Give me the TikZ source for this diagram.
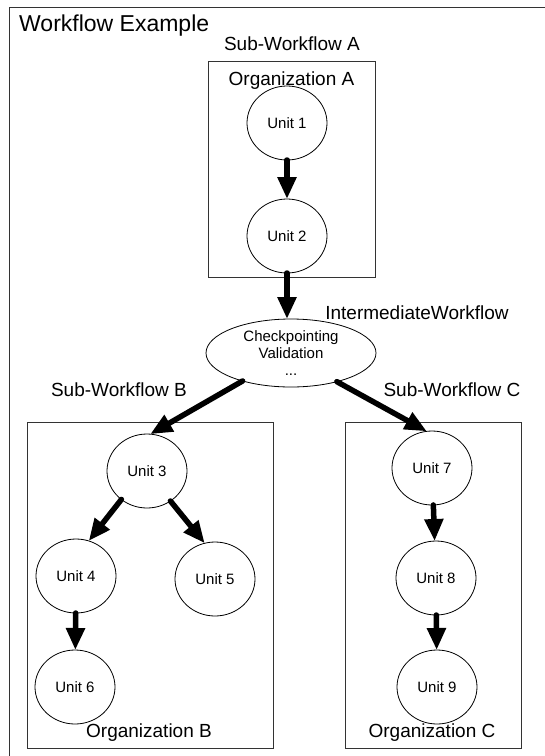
\documentclass[tikz,border=0pt]{standalone}
\usepackage{fontspec}
\setmainfont{Liberation Sans}
\usetikzlibrary{shapes.geometric,arrows.meta}
\begin{document}
\begin{tikzpicture}[x=1pt,y=-1pt,
  unit/.style={draw=black, line width=0.8pt, ellipse, minimum width=80pt, minimum height=74pt, inner sep=0pt, outer sep=0pt, font=\fontsize{15}{17}\selectfont},
  orgbox/.style={draw=black!80, line width=1pt, rectangle, inner sep=0pt, outer sep=0pt},
  lbl/.style={font=\fontsize{19}{22}\selectfont, inner sep=0pt},
  flow/.style={line width=5.5pt, line cap=round, -{Triangle[length=22pt,width=18pt]}},
]
\useasboundingbox (0,0) rectangle (545,756);
% outer frame (right and bottom sides lie outside the picture)
\coordinate (frTR) at (545,7);
\coordinate (frTL) at (9,7);
\coordinate (frBL) at (9,756);
\draw[draw=black!80, line width=1pt] (frTR) -- (frTL) -- (frBL);

\node[font=\fontsize{23}{26}\selectfont, inner sep=0pt, anchor=west] (title) at (19,26) {Workflow Example};

% organisation boxes
\node[orgbox, minimum width=167pt, minimum height=216pt] (orgA) at (291.5,169) {};
\node[orgbox, minimum width=246pt, minimum height=326pt] (orgB) at (150,585) {};
\node[orgbox, minimum width=176pt, minimum height=326pt] (orgC) at (433,585) {};

% labels
\node[lbl] (swa) at (292,44) {Sub-Workflow A};
\node[lbl] (oa) at (291.5,81) {Organization A};
\node[lbl] (iw) at (417,313) {IntermediateWorkflow};
\node[lbl] (swb) at (119,390) {Sub-Workflow B};
\node[lbl] (swc) at (452,390) {Sub-Workflow C};
\node[lbl] (ob) at (149,733) {Organization B};
\node[lbl] (oc) at (432,733) {Organization C};

% units
\node[unit] (u1) at (287,123) {Unit 1};
\node[unit] (u2) at (287,236) {Unit 2};
\node[unit, minimum width=170pt, minimum height=68pt, align=center] (cp) at (291,353) {Checkpointing\\Validation\\...};
\node[unit] (u3) at (147,471) {Unit 3};
\node[unit] (u4) at (76,576) {Unit 4};
\node[unit] (u5) at (215,579) {Unit 5};
\node[unit] (u6) at (75,687) {Unit 6};
\node[unit] (u7) at (432,468) {Unit 7};
\node[unit] (u8) at (436,578) {Unit 8};
\node[unit] (u9) at (437,687) {Unit 9};

% connectors
\draw[flow] (u1) -- (u2);
\draw[flow] (u2.south) -- (u2.south |- cp.north);
\draw[flow] (cp.210) -- (u3.85);
\draw[flow] (cp.328) -- (u7.98);
\draw[flow] (u3.228) -- (u4.70);
\draw[flow] (u3.308) -- (u5.106);
\draw[flow] (u4) -- (u6);
\draw[flow] (u7) -- (u8);
\draw[flow] (u8) -- (u9);
\end{tikzpicture}
\end{document}
